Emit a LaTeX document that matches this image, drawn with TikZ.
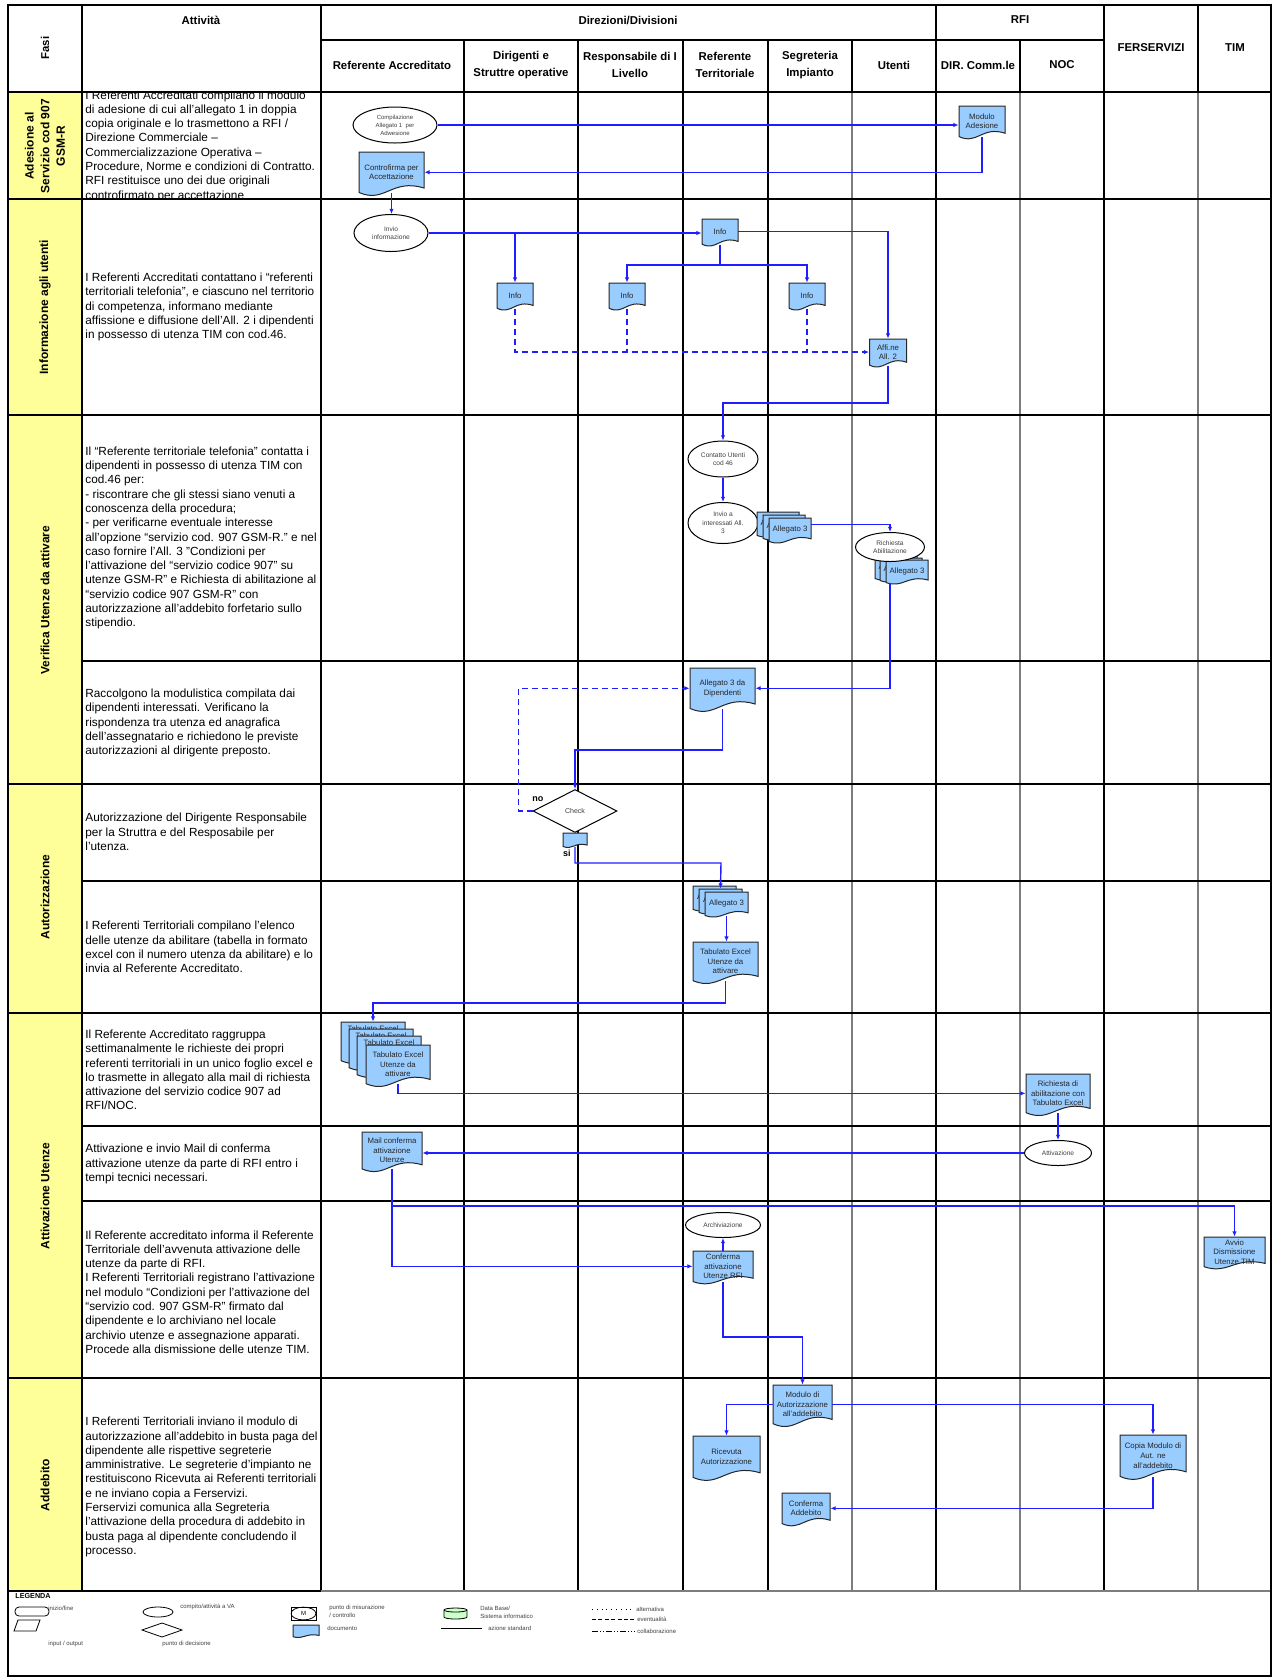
\documentclass[tikz,border=0pt]{standalone}
\usepackage{fontspec}
\setmainfont{Liberation Sans}
\usetikzlibrary{shapes.geometric,arrows.meta,calc}
\definecolor{flowblue}{RGB}{30,30,255}
\definecolor{docblue}{RGB}{153,204,255}
\definecolor{phaseyellow}{RGB}{255,255,153}
\definecolor{dbgreen}{RGB}{204,255,204}
\definecolor{lanegray}{RGB}{125,125,125}
\newcommand{\docshape}[4]{%
  \path[docsh] ({#1-#3/2},{#2}) -- ({#1+#3/2},{#2}) -- ({#1+#3/2},{#2+0.8*#4})
    .. controls ({#1},{#2+0.58*#4}) and ({#1-0.1*#3},{#2+1.15*#4}) .. ({#1-#3/2},{#2+0.9*#4}) -- cycle;}
\newcommand{\docnode}[6]{%
  \docshape{#2}{#3}{#4}{#5}%
  \node[docbox,minimum width={#4*0.5pt},minimum height={#5*0.45pt}] (#1) at ({#2},{#3+0.45*#5}) {#6};}
\tikzset{
  docsh/.style={fill=docblue, draw=black!85, line width=0.5pt},
  docbox/.style={draw=none, inner sep=0pt, align=center, font=\fontsize{3.9}{4.8}\selectfont, text=black!85},
  ell/.style={ellipse, draw=black, fill=white, line width=0.5pt, inner sep=0pt, align=center, font=\fontsize{3.3}{4.2}\selectfont, text=black!75},
  flow/.style={draw=flowblue, line width=0.7pt, -{Latex[length=2.6pt,width=2.2pt]}},
  fline/.style={draw=flowblue, line width=0.7pt},
  dflow/.style={flow, dash pattern=on 3pt off 2pt},
  dline/.style={fline, dash pattern=on 3pt off 2pt},
  desc/.style={anchor=west, align=left, inner sep=0pt, font=\fontsize{5.9}{7.15}\selectfont},
  hdr/.style={align=center, inner sep=0pt, font=\bfseries\fontsize{5.7}{8.5}\selectfont},
  phase/.style={rotate=90, align=center, inner sep=0pt, font=\bfseries\fontsize{6}{7.8}\selectfont},
  leg/.style={anchor=west, inner sep=0pt, align=left, font=\fontsize{3}{4}\selectfont, text=black!75},
  lbl/.style={inner sep=0pt, font=\bfseries\fontsize{4.5}{5}\selectfont},
  thickln/.style={line width=1pt, draw=black},
  midln/.style={line width=0.6pt, draw=black},
  grayln/.style={line width=0.6pt, draw=lanegray},
}
\begin{document}
\begin{tikzpicture}[x=0.5pt,y=-0.5pt]
\useasboundingbox (0,0) rectangle (1274,1677);
% ---------- grid ----------
\fill[phaseyellow] (8,92) rectangle (82,1591);
% header
\draw[midln] (321,40) -- (1104,40);
\foreach \xx in {464,578,683,768,852,1020} \draw[midln] (\xx,40) -- (\xx,92);
\foreach \xx in {936,1104,1198} \draw[midln] (\xx,5) -- (\xx,92);
% body verticals
\foreach \xx in {464,578,683,768,936,1104} \draw[midln] (\xx,92) -- (\xx,1591);
\foreach \xx in {852,1020,1198} \draw[grayln] (\xx,92) -- (\xx,1591);
\draw[thickln] (82,5) -- (82,1591);
\draw[thickln] (321,5) -- (321,1591);
% horizontals
\draw[thickln] (8,92) -- (1271,92);
\foreach \yy in {199,415,784,1013,1378} \draw[thickln] (8,\yy) -- (1271,\yy);
\foreach \yy in {661,881,1126,1201} \draw[midln] (82,\yy) -- (1271,\yy);
\draw[thickln] (8,1591) -- (321,1591);
\draw[grayln, line width=0.9pt] (321,1591) -- (1271,1591);
\draw[line width=1.1pt] (8,5) rectangle (1271,1676);
% ---------- header texts ----------
\node[hdr, rotate=90] (hfasi) at (45,48) {Fasi};
\node[hdr] (hatt) at (201,20) {Attività};
\node[hdr] (hdir) at (628,20) {Direzioni/Divisioni};
\node[hdr] (hrfi) at (1020,20) {RFI};
\node[hdr] (hfer) at (1151,48) {FERSERVIZI};
\node[hdr] (htim) at (1235,48) {TIM};
\node[hdr] (hra) at (392,65) {Referente Accreditato};
\node[hdr] (hdi) at (521,65) {Dirigenti e\\Struttre operative};
\node[hdr] (hre) at (630,65) {Responsabile di I\\Livello};
\node[hdr] (hrt) at (725,65) {Referente\\Territoriale};
\node[hdr] (hse) at (810,65) {Segreteria\\Impianto};
\node[hdr] (hut) at (894,65) {Utenti};
\node[hdr] (hdc) at (978,65) {DIR. Comm.le};
\node[hdr] (hno) at (1062,65) {NOC};
% ---------- phase labels ----------
\node[phase] (p1) at (45,146) {Adesione al\\Servizio cod 907\\GSM-R};
\node[phase] (p2) at (45,307) {Informazione agli utenti};
\node[phase] (p3) at (45,600) {Verifica Utenze da attivare};
\node[phase] (p4) at (45,897) {Autorizzazione};
\node[phase] (p5) at (45,1196) {Attivazione Utenze};
\node[phase] (p6) at (45,1485) {Addebito};
% ---------- descriptions ----------
\begin{scope}
\clip (82,93) rectangle (321,198);
\node[desc] (d1) at (85,146) {I Referenti Accreditati compilano il modulo\\di adesione di cui all’allegato 1 in doppia\\copia originale e lo trasmettono a RFI /\\Direzione Commerciale –\\Commercializzazione Operativa –\\Procedure, Norme e condizioni di Contratto.\\RFI restituisce uno dei due originali\\controfirmato per accettazione};
\end{scope}
\node[desc] (d2) at (85,307) {I Referenti Accreditati contattano i “referenti\\territoriali telefonia”, e ciascuno nel territorio\\di competenza, informano mediante\\affissione e diffusione dell'All. 2 i dipendenti\\in possesso di utenza TIM con cod.46.};
\node[desc] (d3) at (85,538) {Il “Referente territoriale telefonia” contatta i\\dipendenti in possesso di utenza TIM con\\cod.46 per:\\- riscontrare che gli stessi siano venuti a\\conoscenza della procedura;\\- per verificarne eventuale interesse\\all’opzione “servizio cod. 907 GSM-R.” e nel\\caso fornire l’All. 3 "Condizioni per\\l’attivazione del “servizio codice 907” su\\utenze GSM-R" e Richiesta di abilitazione al\\“servizio codice 907 GSM-R" con\\autorizzazione all’addebito forfetario sullo\\stipendio.};
\node[desc] (d4) at (85,723) {Raccolgono la modulistica compilata dai\\dipendenti interessati. Verificano la\\rispondenza tra utenza ed anagrafica\\dell’assegnatario e richiedono le previste\\autorizzazioni al dirigente preposto.};
\node[desc] (d5) at (85,832) {Autorizzazione del Dirigente Responsabile\\per la Struttra e del Resposabile per\\l'utenza.};
\node[desc] (d6) at (85,947) {I Referenti Territoriali compilano l'elenco\\delle utenze da abilitare (tabella in formato\\excel con il numero utenza da abilitare) e lo\\invia al Referente Accreditato.};
\node[desc] (d7) at (85,1070) {Il Referente Accreditato raggruppa\\settimanalmente le richieste dei propri\\referenti territoriali in un unico foglio excel e\\lo trasmette in allegato alla mail di richiesta\\attivazione del servizio codice 907 ad\\RFI/NOC.};
\node[desc] (d8) at (85,1164) {Attivazione e invio Mail di conferma\\attivazione utenze da parte di RFI entro i\\tempi tecnici necessari.};
\node[desc] (d9) at (85,1292) {Il Referente accreditato informa il Referente\\Territoriale dell'avvenuta attivazione delle\\utenze da parte di RFI.\\I Referenti Territoriali registrano l'attivazione\\nel modulo “Condizioni per l'attivazione del\\“servizio cod. 907 GSM-R” firmato dal\\dipendente e lo archiviano nel locale\\archivio utenze e assegnazione apparati.\\Procede alla dismissione delle utenze TIM.};
\node[desc] (d10) at (85,1487) {I Referenti Territoriali inviano il modulo di\\autorizzazione all'addebito in busta paga del\\dipendente alle rispettive segreterie\\amministrative. Le segreterie d'impianto ne\\restituiscono Ricevuta ai Referenti territoriali\\e ne inviano copia a Ferservizi.\\Ferservizi comunica alla Segreteria\\l'attivazione della procedura di addebito in\\busta paga al dipendente concludendo il\\processo.};
% ---------- flow shapes ----------
\node[ell, minimum width=42pt, minimum height=18pt, font=\fontsize{3}{4}\selectfont] (comp) at (395,125) {Compilazione\\Allegato 1~ per\\Adwesione};
\docnode{modulo}{982}{106}{46}{34}{Modulo\\Adesione}
\docnode{contro}{391.5}{152}{65}{45}{Controfirma per\\Accettazione}
\node[ell, minimum width=37pt, minimum height=18.5pt] (invio) at (391,233) {Invio\\informazione};
\docnode{info0}{720}{219}{36}{28}{Info}
\docnode{info1}{515}{283}{36}{28}{Info}
\docnode{info2}{627}{283}{36}{28}{Info}
\docnode{info3}{807}{283}{36}{28}{Info}
\docnode{affi}{888}{339}{37}{29}{Affi.ne\\All. 2}
\node[ell, minimum width=35pt, minimum height=18pt] (contatto) at (723,459) {Contatto Utenti\\cod 46};
\node[ell, minimum width=35pt, minimum height=20.5pt] (invioa) at (723,523) {Invio a\\interessati All.\\3};
\docnode{a3a1}{778}{512}{42}{26}{Allegato 3}
\docnode{a3a2}{784}{515}{42}{26}{Allegato 3}
\docnode{a3a}{790}{518}{42}{26}{Allegato 3}
\docnode{a3b1}{896}{556}{42}{25}{Allegato 3}
\docnode{a3b2}{901}{558}{42}{25}{Allegato 3}
\docnode{a3b}{907}{560}{42}{25}{Allegato 3}
\node[ell, minimum width=34.5pt, minimum height=14.5pt] (rich) at (890,547) {Richiesta\\Abilitazione};
\docnode{alldip}{722.5}{668}{65}{45}{Allegato 3 da\\Dipendenti}
\node[diamond, draw=black, fill=white, line width=0.5pt, aspect=1.95, minimum width=42pt, minimum height=21.5pt, inner sep=0pt, font=\fontsize{3.5}{4}\selectfont, text=black!75] (check) at (575,811) {Check};
\docnode{sdoc}{575}{833}{24}{15}{}
\docnode{a3c1}{714.5}{886}{43}{26}{Allegato 3}
\docnode{a3c2}{720.5}{889}{43}{26}{Allegato 3}
\docnode{a3c}{726.5}{892}{43}{26}{Allegato 3}
\docnode{tabx}{725.5}{942}{65}{43}{Tabulato Excel\\Utenze da\\attivare}
\docnode{tab1}{373}{1022}{64}{43}{Tabulato Excel\\[-2pt]~\\~\\~}
\docnode{tab2}{381}{1029}{64}{43}{Tabulato Excel\\[-2pt]~\\~\\~}
\docnode{tab3}{389}{1036}{64}{43}{Tabulato Excel\\[-2pt]~\\~\\~}
\docnode{tab}{398}{1045}{64}{43}{Tabulato Excel\\Utenze da\\attivare}
\docnode{richtab}{1058}{1074}{64}{43}{Richiesta di\\abilitazione con\\Tabulato Excel}
\node[ell, minimum width=33.5pt, minimum height=12.5pt] (attiv) at (1058,1153) {Attivazione};
\docnode{mail}{392}{1132}{60}{41}{Mail conferma\\attivazione\\Utenze}
\node[ell, minimum width=37.5pt, minimum height=12.5pt] (archiv) at (723,1225) {Archiviazione};
\docnode{conf}{723}{1251}{60}{34}{Conferma\\attivazione\\Utenze RFI}
\docnode{avvio}{1234.5}{1237}{61}{33}{Avvio\\Dismissione\\Utenze TIM}
\docnode{modaut}{802.5}{1385}{59}{43}{Modulo di\\Autorizzazione\\all'addebito}
\docnode{ricev}{726.5}{1436}{67}{46}{Ricevuta\\Autorizzazione}
\docnode{copia}{1153}{1435}{66}{46}{Copia Modulo di\\Aut. ne\\all'addebito}
\docnode{confadd}{806}{1493}{48}{34}{Conferma\\Addebito}
% ---------- labels ----------
\node[lbl, anchor=west] (nolab) at (532,799) {no};
\node[lbl, anchor=east] (silab) at (571,853) {si};
% ---------- connectors ----------
\coordinate (br) at (720,265);
\coordinate (k1) at (723,403);
\coordinate (k2) at (575,750);
\coordinate (k3) at (721,863);
\coordinate (k4) at (373,1003);
\coordinate (k5) at (392,1206);
\coordinate (k6) at (802.5,1337);
\draw[flow] (comp.east) -- (comp.east -| modulo.west);
\draw[flow] (modulo.south) |- (contro.east);
\draw[flow] (contro.south) -- (contro.south |- invio.north);
\draw[flow] (invio.east) -- (invio.east -| info0.west);
\draw[flow] (info1.north |- invio.east) -- (info1.north);
\draw[flow] (info0.east) -| (affi.north);
\draw[fline] (info0.south) -- (br);
\draw[flow] (br) -| (info2.north);
\draw[flow] (br) -| (info3.north);
\draw[dflow] (info1.south) |- (affi.west);
\draw[dline] (info2.south) -- (info2.south |- affi.west);
\draw[dline] (info3.south) -- (info3.south |- affi.west);
\draw[flow] (affi.south) |- (k1) -- (contatto.north);
\draw[flow] (contatto.south) -- (invioa.north);
\draw[flow] ([yshift=2.5pt]a3a.east) -| (rich.north);
\draw[flow] (rich.south |- a3b.south) |- (alldip.east);
\draw[dflow] (check.west) -- ++(-14,0) |- (alldip.west);
\draw[flow] (alldip.south) |- (k2) -- (check.north);
\draw[flow] (sdoc.south) |- (k3) -- (a3c2.north);
\draw[flow] (a3c.south) -- (a3c.south |- tabx.north);
\draw[flow] (tabx.south) |- (k4) -- (tab1.north);
\draw[flow] (tab.south) |- (richtab.west);
\draw[flow] (richtab.south) -- (attiv.north);
\draw[flow] (attiv.west) -- (attiv.west -| mail.east);
\draw[flow] (mail.south) |- (conf.west);
\draw[flow] (k5) -| (avvio.north);
\draw[flow] (conf.north) -- (archiv.south);
\draw[flow] (conf.south) |- (k6) -- (modaut.north);
\draw[flow] (modaut.west) -| (ricev.north);
\draw[flow] (modaut.east) -| (copia.north);
\draw[flow] (copia.south) |- (confadd.east);
% ---------- legend ----------
\node[inner sep=0pt, anchor=west, font=\bfseries\fontsize{3.6}{4}\selectfont] (legtitle) at (15,1596) {LEGENDA};
\draw[line width=0.4pt, fill=white, rounded corners=2pt] (15,1607) rectangle (49,1616);
\node[leg] (leg1) at (48,1608) {inizio/fine};
\draw[line width=0.4pt] (18,1620) -- (40,1620) -- (36,1631) -- (14,1631) -- cycle;
\node[leg] (leg2) at (48,1644) {input / output};
\draw[line width=0.4pt] (158,1612) ellipse [x radius=7.5pt, y radius=2.5pt];
\node[leg] (leg3) at (180,1607) {compito/attività a VA};
\draw[line width=0.4pt] (142,1630) -- (162,1623) -- (182,1630) -- (162,1637) -- cycle;
\node[leg] (leg4) at (162,1644) {punto di decisione};
\draw[line width=0.4pt] (291,1607) rectangle (316,1620);
\draw[line width=0.4pt] (303.5,1613.5) ellipse [x radius=6.2pt, y radius=3.2pt];
\node[inner sep=0pt, font=\fontsize{3}{4}\selectfont] (legm) at (303.5,1613.5) {M};
\node[leg] (leg5) at (329,1611) {punto di misurazione\\/ controllo};
\docshape{306}{1625}{26}{13}
\node[leg] (leg6) at (327,1628) {documento};
\path[fill=dbgreen, draw=black, line width=0.4pt] (444,1610) -- (444,1617) arc[start angle=180, end angle=360, x radius=5.75pt, y radius=1pt] -- (467,1610) arc[start angle=0, end angle=180, x radius=5.75pt, y radius=1pt] -- cycle;
\draw[line width=0.4pt] (444,1610) arc[start angle=180, end angle=360, x radius=5.75pt, y radius=1pt];
\node[leg] (leg7) at (480,1612) {Data Base/\\Sistema informatico};
\draw[line width=0.4pt] (441,1628) -- (482,1628);
\node[leg] (leg8) at (488,1628) {azione standard};
\draw[line width=0.4pt, dotted] (592,1609) -- (634,1609);
\node[leg] (leg9) at (636,1609) {alternativa};
\draw[line width=0.4pt, dash pattern=on 2pt off 1.2pt] (592,1619) -- (634,1619);
\node[leg] (leg10) at (637,1619) {eventualità};
\draw[line width=0.4pt, dash pattern=on 3pt off 1pt on 0.5pt off 1pt on 0.5pt off 1pt] (592,1631) -- (635,1631);
\node[leg] (leg11) at (637,1631) {collaborazione};
\end{tikzpicture}
\end{document}
